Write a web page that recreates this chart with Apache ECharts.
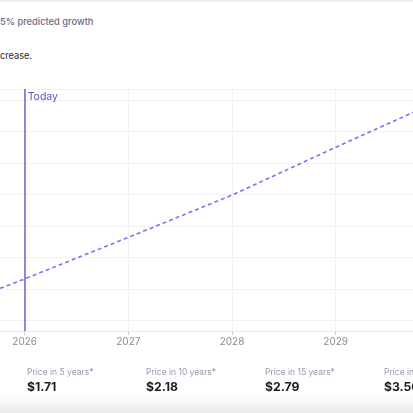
<!DOCTYPE html>
<html>
<head>
<meta charset="utf-8">
<script src="https://cdn.jsdelivr.net/npm/echarts@6/dist/echarts.min.js"></script>
<style>
  html, body { margin: 0; padding: 0; width: 413px; height: 413px; overflow: hidden; background: #fff; font-family: Inter, "Noto Sans", sans-serif; }
  #topline { position: absolute; left: 0; top: 0; width: 413px; height: 2px; background: #f0f0f4; }
  #growth { position: absolute; left: 0; top: 16px; font-size: 9.3px; font-weight: 500; color: #6c6a80; white-space: nowrap; }
  #desc { position: absolute; left: 0; top: 50px; font-size: 9.2px; color: #2a2a2a; white-space: nowrap; }
  #chart { position: absolute; left: -79px; top: 0; width: 622px; height: 413px; }
  .stat { position: absolute; top: 366px; white-space: nowrap; }
  .stat .lbl { font-size: 8.5px; color: #9a98ae; line-height: 12px; }
  .stat .val { font-size: 12.2px; font-weight: 700; color: #1c1c1c; line-height: 16px; margin-top: 1px; }
  #shade { position: absolute; left: 0; top: 394px; width: 413px; height: 19px; background: linear-gradient(rgba(255,255,255,0), #ebebee); }
</style>
</head>
<body>
<div id="topline"></div>
<div id="growth">5% predicted growth</div>
<div id="desc">crease.</div>
<div id="chart"></div>
<div id="stats"></div>
<div id="shade"></div>
<script>
// Data
var years = [2025.7, 2026, 2027, 2028, 2029, 2030];
var prices = [1.247, 1.266, 1.332, 1.399, 1.475, 1.549];
var todayYear = 2026;
var todayLabel = 'Today';
var axisMinYear = 2025;
var axisMaxYear = 2031;
var yMin = 1.1833;
var yMax = 1.5675;
var statLabels = ['Price in 5 years*', 'Price in 10 years*', 'Price in 15 years*', 'Price in 20 years*'];
var statValues = ['$1.71', '$2.18', '$2.79', '$3.56'];

// Stats row (HTML text)
var statLeft = [27, 146, 265, 384];
var statsEl = document.getElementById('stats');
statLabels.forEach(function (l, i) {
  var d = document.createElement('div');
  d.className = 'stat';
  d.style.left = statLeft[i] + 'px';
  d.innerHTML = '<div class="lbl">' + l + '</div><div class="val">' + statValues[i] + '</div>';
  statsEl.appendChild(d);
});

var chart = echarts.init(document.getElementById('chart'), null, { renderer: 'canvas' });
var seriesData = years.map(function (y, i) { return [y, prices[i]]; });

chart.setOption({
  animation: false,
  grid: { left: 0, right: 0, top: 89, height: 242, containLabel: false, outerBoundsMode: 'none' },
  xAxis: {
    type: 'value',
    min: axisMinYear,
    max: axisMaxYear,
    interval: 1,
    axisLine: { show: true, lineStyle: { color: '#e8e8ea', width: 1 } },
    axisTick: { show: true, length: 4, lineStyle: { color: '#cfcfd4' } },
    axisLabel: {
      color: '#8c8c8c', fontSize: 10, margin: 6, fontFamily: 'Inter',
      showMinLabel: false, showMaxLabel: false,
      formatter: function (v) { return String(v); }
    },
    splitLine: { show: true, lineStyle: { color: '#f1f1f3', width: 1 } }
  },
  yAxis: {
    type: 'value',
    min: yMin,
    max: yMax,
    splitNumber: 8,
    axisLine: { show: false },
    axisTick: { show: false },
    axisLabel: { show: false },
    splitLine: { show: true, lineStyle: { color: '#f1f1f3', width: 1 } }
  },
  series: [{
    type: 'line',
    data: seriesData,
    showSymbol: false,
    symbol: 'none',
    lineStyle: { color: '#8a6cf3', width: 1.6, type: [4, 3] },
    markLine: {
      silent: true,
      symbol: 'none',
      label: { show: false },
      lineStyle: { color: '#7d58c9', width: 1.5, type: 'solid' },
      data: [{ xAxis: todayYear }]
    },
    markPoint: {
      silent: true,
      symbol: 'circle',
      symbolSize: 0,
      label: {
        show: true,
        position: 'right',
        distance: 3,
        offset: [0, 8],
        formatter: todayLabel,
        color: '#6a4cb6',
        fontSize: 10.5,
        fontFamily: 'Inter'
      },
      data: [{ coord: [todayYear, yMax] }]
    }
  }]
});
</script>
</body>
</html>
